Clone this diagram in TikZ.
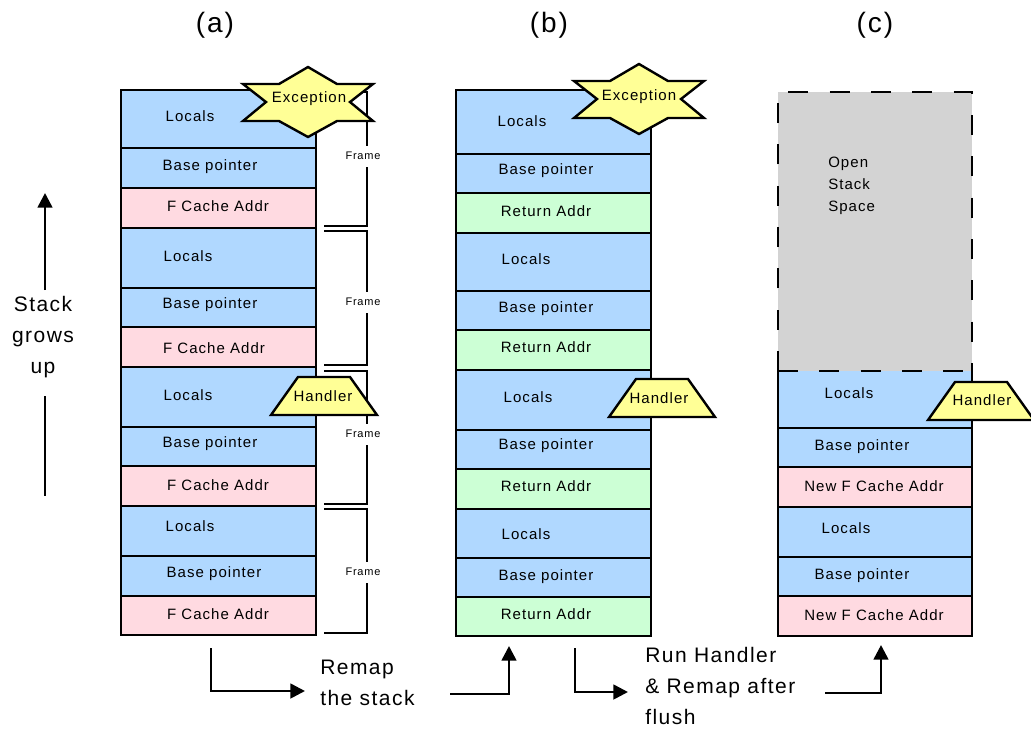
\documentclass[tikz,border=0pt]{standalone}
\usepackage{fontspec}
\setmainfont{Liberation Sans}[LetterSpace=7]
\usetikzlibrary{arrows.meta}

\definecolor{cellblue}{RGB}{176,216,255}
\definecolor{cellpink}{RGB}{255,218,225}
\definecolor{cellgreen}{RGB}{204,255,213}
\definecolor{shapeyellow}{RGB}{255,255,150}
\definecolor{opengray}{RGB}{211,211,211}

\newcommand{\cellfont}{\fontsize{11.25pt}{16.5pt}\selectfont}
\newcommand{\framefont}{\fontsize{8.25pt}{10pt}\selectfont}
\newcommand{\bigfont}{\fontsize{15.75pt}{23pt}\selectfont}
\newcommand{\titlefont}{\fontsize{21pt}{25pt}\selectfont}

% six-pointed star outline, centred on the origin (y grows downwards)
\newcommand{\starsix}{(0,-35) -- (29,-18) -- (65,-18) -- (42,0) -- (65,19) -- (29,19) -- (0,35)
  -- (-29,19) -- (-65,19) -- (-42,0) -- (-65,-18) -- (-29,-18) -- cycle}
% trapezoid for the handler tag, centred on the origin
\newcommand{\trap}{(-26,-19) -- (26,-19) -- (53,19) -- (-53,19) -- cycle}

\begin{document}
\begin{tikzpicture}[x=0.75pt,y=-0.75pt,
  cell/.style={draw=black, line width=1.8pt},
  lbl/.style={inner sep=0pt, font=\cellfont},
  bracket/.style={line width=1.5pt},
  framelbl/.style={fill=white, inner xsep=1pt, inner ysep=5pt, font=\framefont},
  tag/.style={draw=black, fill=shapeyellow, line width=1.8pt, line join=miter},
  flow/.style={line width=2pt, -{Triangle[length=11pt,width=11pt]}},
  bigtxt/.style={inner sep=0pt, font=\bigfont},
  title/.style={inner sep=0pt, font=\titlefont}]
\useasboundingbox (0,0) rectangle (1031,733);

% ---- titles
\node[title] (ta) at (215,25) {(a)};
\node[title] (tb) at (549,25) {(b)};
\node[title] (tc) at (875,25) {(c)};

% ---- column (a)
\foreach \t/\b/\c in {90/148/cellblue,148/188/cellblue,188/228/cellpink,
  228/288/cellblue,288/327/cellblue,327/367/cellpink,
  367/427/cellblue,427/466/cellblue,466/506/cellpink,
  506/556/cellblue,556/596/cellblue,596/635/cellpink}
  \filldraw[cell, fill=\c] (121,\t) rectangle (316,\b);

\node[lbl] (a1) at (190,116) {Locals};
\node[lbl] (a2) at (210,167) {Base pointer};
\node[lbl] (a3) at (218,206) {F Cache Addr};
\node[lbl] (a4) at (188,256) {Locals};
\node[lbl] (a5) at (210,305) {Base pointer};
\node[lbl] (a6) at (214,348) {F Cache Addr};
\node[lbl] (a7) at (188,395) {Locals};
\node[lbl] (a8) at (210,444) {Base pointer};
\node[lbl] (a9) at (218,485) {F Cache Addr};
\node[lbl] (a10) at (190,526) {Locals};
\node[lbl] (a11) at (214,574) {Base pointer};
\node[lbl] (a12) at (218,614) {F Cache Addr};

% ---- frame brackets
\draw[bracket] (324,92) -- (367,92) -- (367,226) -- (324,226);
\node[framelbl] (fr1) at (363,156) {Frame};
\draw[bracket] (324,231) -- (367,231) -- (367,365) -- (324,365);
\node[framelbl] (fr2) at (363,302) {Frame};
\draw[bracket] (324,371) -- (367,371) -- (367,504) -- (324,504);
\node[framelbl] (fr3) at (363,434) {Frame};
\draw[bracket] (324,509) -- (367,509) -- (367,633) -- (324,633);
\node[framelbl] (fr4) at (363,572) {Frame};

% ---- column (b)
\foreach \t/\b/\c in {90/154/cellblue,154/193/cellblue,193/233/cellgreen,
  233/291/cellblue,291/330/cellblue,330/370/cellgreen,
  370/430/cellblue,430/469/cellblue,469/509/cellgreen,
  509/558/cellblue,558/597/cellblue,597/636/cellgreen}
  \filldraw[cell, fill=\c] (456,\t) rectangle (651,\b);

\node[lbl] (b1) at (522,121) {Locals};
\node[lbl] (b2) at (546,171) {Base pointer};
\node[lbl] (b3) at (546,211) {Return Addr};
\node[lbl] (b4) at (526,259) {Locals};
\node[lbl] (b5) at (546,309) {Base pointer};
\node[lbl] (b6) at (546,347) {Return Addr};
\node[lbl] (b7) at (528,397) {Locals};
\node[lbl] (b8) at (546,446) {Base pointer};
\node[lbl] (b9) at (546,486) {Return Addr};
\node[lbl] (b10) at (526,534) {Locals};
\node[lbl] (b11) at (546,577) {Base pointer};
\node[lbl] (b12) at (546,614) {Return Addr};

% ---- column (c)
\fill[cellblue] (778,371) rectangle (972,428);
\draw[cell] (778,371) -- (778,428) -- (972,428) -- (972,371);
\foreach \t/\b/\c in {428/467/cellblue,467/507/cellpink,
  507/557/cellblue,557/596/cellblue,596/636/cellpink}
  \filldraw[cell, fill=\c] (778,\t) rectangle (972,\b);
\fill[opengray] (778,92) rectangle (972,371);
\draw[line width=1.8pt, dash pattern=on 15pt off 16pt] (778,371) -- (778,92) -- (972,92) -- (972,371);
\draw[line width=1.8pt, dash pattern=on 15pt off 16pt] (778,371) -- (972,371);

\node[lbl, align=left, anchor=west, font=\cellfont] (open) at (828,186) {Open\\Stack\\Space};
\node[lbl] (c1) at (849,393) {Locals};
\node[lbl] (c2) at (862,447) {Base pointer};
\node[lbl] (c3) at (874,486) {New F Cache Addr};
\node[lbl] (c4) at (846,528) {Locals};
\node[lbl] (c5) at (862,576) {Base pointer};
\node[lbl] (c6) at (874,615) {New F Cache Addr};

% ---- exception stars
\filldraw[tag] (308,102) ++(0,0) [shift={(308,102)}] \starsix;
\node[lbl] (exa) at (309,99) {Exception};
\filldraw[tag] [shift={(639,99)}] \starsix;
\node[lbl] (exb) at (639,97) {Exception};

% ---- handler tags
\filldraw[tag] [shift={(324,396)}] \trap;
\node[lbl] (ha) at (323,396) {Handler};
\filldraw[tag] [shift={(662,398)}] \trap;
\node[lbl] (hb) at (659,398) {Handler};
\filldraw[tag] [shift={(981,401)}] \trap;
\node[lbl] (hc) at (982,400) {Handler};

% ---- stack direction
\node[bigtxt, align=center] (grow) at (43,337) {Stack\\grows\\up};
\coordinate (g1) at (45,290);
\coordinate (g2) at (45,193);
\coordinate (g3) at (45,396);
\coordinate (g4) at (45,496);
\draw[flow] (g1) -- (g2);
\draw[line width=2pt] (g3) -- (g4);

% ---- transitions between the columns
\node[bigtxt, align=left, anchor=west] (remap) at (320,683) {Remap\\the stack};
\coordinate (r1) at (211,648);
\coordinate (r2) at (305,691);
\coordinate (r3) at (450,694);
\coordinate (r4) at (509,646);
\draw[flow] (r1) |- (r2);
\draw[flow] (r3) -| (r4);

\node[bigtxt, align=left, anchor=west] (run) at (645,686) {Run Handler\\\& Remap after\\flush};
\coordinate (h1) at (575,648);
\coordinate (h2) at (628,692);
\coordinate (h3) at (825,693);
\coordinate (h4) at (881,645);
\draw[flow] (h1) |- (h2);
\draw[flow] (h3) -| (h4);
\end{tikzpicture}
\end{document}
